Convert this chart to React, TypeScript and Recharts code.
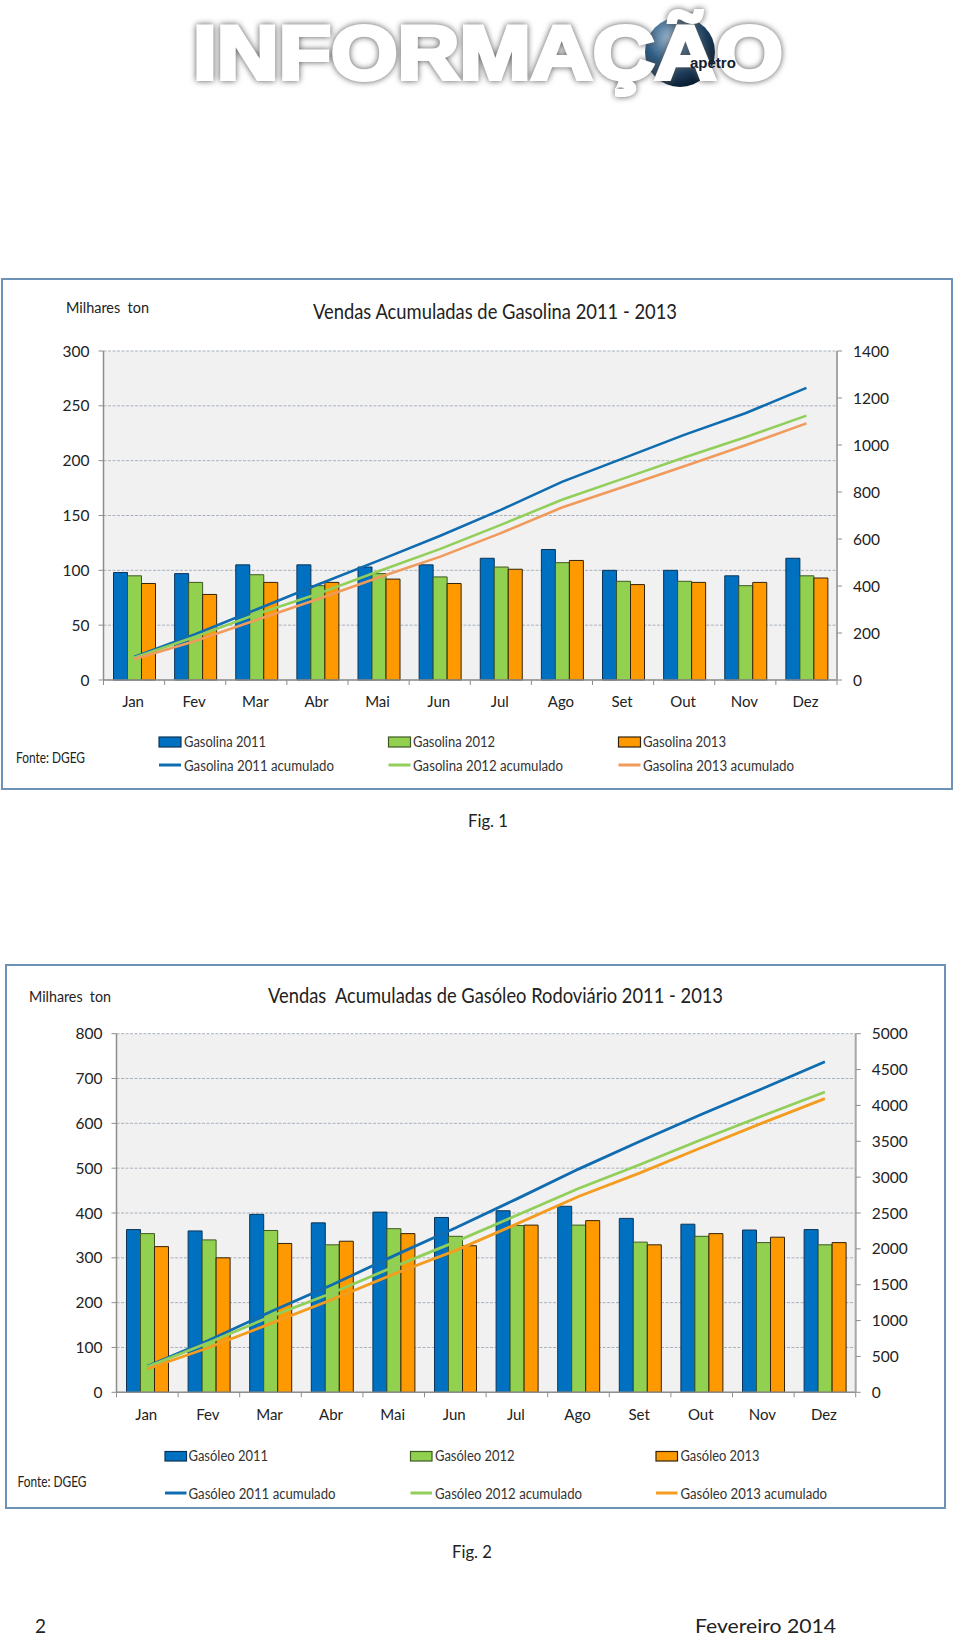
import React from "react";
import { ComposedChart, Bar, Line, XAxis, YAxis, CartesianGrid, Legend } from "recharts";

const months = ["Jan", "Fev", "Mar", "Abr", "Mai", "Jun", "Jul", "Ago", "Set", "Out", "Nov", "Dez"];

const gasolina2011 = [98, 97, 105, 105, 103, 105, 111, 119, 100, 100, 95, 111];
const gasolina2012 = [95, 89, 96, 86, 97, 94, 103, 107, 90, 90, 86, 95];
const gasolina2013 = [88, 78, 89, 89, 92, 88, 101, 109, 87, 89, 89, 93];
const gasolina2011Acum = [98, 195, 300, 405, 508, 613, 724, 843, 943, 1043, 1135, 1243];
const gasolina2012Acum = [95, 184, 280, 366, 463, 557, 660, 767, 857, 947, 1033, 1125];
const gasolina2013Acum = [88, 166, 255, 344, 436, 524, 625, 734, 821, 910, 999, 1092];

const gasoleo2011 = [363, 360, 397, 378, 402, 390, 405, 415, 388, 375, 362, 363];
const gasoleo2012 = [354, 340, 361, 329, 365, 348, 372, 373, 335, 348, 334, 329];
const gasoleo2013 = [325, 300, 332, 337, 354, 327, 373, 383, 329, 354, 346, 334];
const gasoleo2011Acum = [363, 725, 1122, 1500, 1902, 2292, 2697, 3112, 3500, 3877, 4240, 4610];
const gasoleo2012Acum = [354, 694, 1055, 1384, 1749, 2097, 2469, 2842, 3177, 3525, 3859, 4188];
const gasoleo2013Acum = [325, 625, 957, 1294, 1648, 1975, 2348, 2731, 3060, 3414, 3760, 4094];

const gasolinaLeftTicks = [0, 50, 100, 150, 200, 250, 300];
const gasolinaRightTicks = [0, 200, 400, 600, 800, 1000, 1200, 1400];
const gasoleoLeftTicks = [0, 100, 200, 300, 400, 500, 600, 700, 800];
const gasoleoRightTicks = [0, 500, 1000, 1500, 2000, 2500, 3000, 3500, 4000, 4500, 5000];

const FONT = "Lato, Carlito, sans-serif";
const INK = "#222222";
const AXIS = "#8e8e8e";

const barFills = ["#0070C0", "#92D050", "#FF9900"];
const barStrokes = ["#0a3558", "#3e5a22", "#33230c"];

function makeRows(a: number[], b: number[], c: number[], d: number[], e: number[], f: number[]) {
  return months.map((m, i) => ({ m, a: a[i], b: b[i], c: c[i], d: d[i], e: e[i], f: f[i] }));
}
const gasolinaRows = makeRows(gasolina2011, gasolina2012, gasolina2013, gasolina2011Acum, gasolina2012Acum, gasolina2013Acum);
const gasoleoRows = makeRows(gasoleo2011, gasoleo2012, gasoleo2013, gasoleo2011Acum, gasoleo2012Acum, gasoleo2013Acum);

function XTick({ x, y, payload, index, band, labelDy }: any) {
  return (
    <g>
      <line x1={x - band / 2} x2={x - band / 2} y1={y} y2={y + 5} stroke={AXIS} strokeWidth={1} />
      {index === months.length - 1 && (
        <line x1={x + band / 2} x2={x + band / 2} y1={y} y2={y + 5} stroke={AXIS} strokeWidth={1} />
      )}
      <text x={x - 1} y={y + labelDy} textAnchor="middle" fontFamily={FONT} fontSize={15} fill={INK}>
        {payload.value}
      </text>
    </g>
  );
}

function LegendBlock({ layout, names, lineColors }: any) {
  return (
    <svg width={layout.w} height={layout.h} style={{ display: "block", overflow: "visible" }}>
      {names.map((n: string[], i: number) => (
        <g key={i}>
          <rect x={layout.sw[i]} y={layout.r1top} width={layout.swW} height={layout.r1h} fill={barFills[i]} stroke={barStrokes[i]} strokeWidth={1.2} />
          <text x={layout.tx[i]} y={layout.r1base} textLength={layout.w1[i]} lengthAdjust="spacingAndGlyphs" fontFamily={FONT} fontSize={14.5} fill="#333">{n[0]}</text>
          <line x1={layout.sw[i]} x2={layout.sw[i] + layout.swW} y1={layout.r2y} y2={layout.r2y} stroke={lineColors[i]} strokeWidth={3} />
          <text x={layout.tx[i]} y={layout.r2base} textLength={layout.w2[i]} lengthAdjust="spacingAndGlyphs" fontFamily={FONT} fontSize={14.5} fill="#333">{n[1]}</text>
        </g>
      ))}
    </svg>
  );
}

function Fig({ frame, margin, rows, leftTicks, rightTicks, lineColors, lineWidth, names, legend, labelDy }: any) {
  const plotW = frame.w - margin.left - margin.right;
  const band = plotW / months.length;
  const leftMax = leftTicks[leftTicks.length - 1];
  const rightMax = rightTicks[rightTicks.length - 1];
  return (
    <div style={{ position: "absolute", left: frame.x, top: frame.y, width: frame.w, height: frame.h, background: "#fff" }}>
      <div style={{ position: "absolute", inset: 0, boxSizing: "border-box", border: "2px solid #6d92b8" }} />
      <ComposedChart
        width={frame.w}
        height={frame.h}
        data={rows}
        barCategoryGap={10}
        barGap={0}
        margin={{ top: margin.top, right: 0, bottom: margin.bottom - 30, left: 0 }}
        style={{ position: "absolute", left: 0, top: 0 }}
      >
        <CartesianGrid yAxisId="left" vertical={false} horizontal fill="#f1f1f1" stroke="#a8b2be" strokeDasharray="3 1.5" strokeWidth={1} />
        <XAxis
          dataKey="m"
          height={30}
          interval={0}
          tickLine={false}
          tickSize={0}
          tickMargin={0}
          axisLine={{ stroke: AXIS, strokeWidth: 1.5 }}
          tick={(p: any) => <XTick {...p} band={band} labelDy={labelDy} />}
        />
        <YAxis
          yAxisId="left"
          orientation="left"
          width={margin.left}
          domain={[0, leftMax]}
          ticks={leftTicks}
          interval={0}
          axisLine={{ stroke: AXIS, strokeWidth: 1.5 }}
          tickLine={{ stroke: AXIS }}
          tickSize={5}
          tickMargin={9}
          tick={{ fontFamily: FONT, fontSize: 15.5, fill: INK }}
        />
        <YAxis
          yAxisId="right"
          orientation="right"
          width={margin.right}
          domain={[0, rightMax]}
          ticks={rightTicks}
          interval={0}
          axisLine={{ stroke: "#a6a6a6", strokeWidth: 2 }}
          tickLine={{ stroke: AXIS }}
          tickSize={5}
          tickMargin={11}
          tick={{ fontFamily: FONT, fontSize: 15.5, fill: INK }}
        />
        {["a", "b", "c"].map((k, i) => (
          <Bar key={k} yAxisId="left" dataKey={k} name={names[i][0]} fill={barFills[i]} stroke={barStrokes[i]} strokeWidth={1} isAnimationActive={false} />
        ))}
        {["d", "e", "f"].map((k, i) => (
          <Line key={k} yAxisId="right" type="linear" dataKey={k} name={names[i][1]} stroke={lineColors[i]} strokeWidth={lineWidth} dot={false} activeDot={false} isAnimationActive={false} />
        ))}
        <Legend
          wrapperStyle={{ position: "absolute", left: 0, top: 0, width: 0, height: 0, overflow: "visible", pointerEvents: "none" }}
          content={() => <LegendBlock layout={{ ...legend, w: frame.w, h: frame.h }} names={names} lineColors={lineColors} />}
        />
      </ComposedChart>
    </div>
  );
}

function T({ x, y, w, size, children, color = INK }: any) {
  return (
    <text x={x} y={y} textLength={w} lengthAdjust="spacingAndGlyphs" fontFamily={FONT} fontSize={size} fill={color} style={{ whiteSpace: "pre" }}>
      {children}
    </text>
  );
}

const gasolinaNames = [
  ["Gasolina 2011", "Gasolina 2011 acumulado"],
  ["Gasolina 2012", "Gasolina 2012 acumulado"],
  ["Gasolina 2013", "Gasolina 2013 acumulado"],
];
const gasoleoNames = [
  ["Gasóleo 2011", "Gasóleo 2011 acumulado"],
  ["Gasóleo 2012", "Gasóleo 2012 acumulado"],
  ["Gasóleo 2013", "Gasóleo 2013 acumulado"],
];

export default function App() {
  return (
    <div style={{ position: "absolute", left: 0, top: 0, width: 960, height: 1638, background: "#fff", overflow: "hidden" }}>
      <Fig
        frame={{ x: 1, y: 278, w: 952, h: 512 }}
        margin={{ top: 73, bottom: 110, left: 102.5, right: 116 }}
        rows={gasolinaRows}
        leftTicks={gasolinaLeftTicks}
        rightTicks={gasolinaRightTicks}
        lineColors={["#0f6cb0", "#92cf5a", "#f09a5c"]}
        lineWidth={2.6}
        names={gasolinaNames}
        labelDy={27}
        legend={{
          sw: [158, 387.5, 617.5], swW: 22, tx: [183, 412, 642],
          w1: [82, 82, 83], w2: [150, 150, 151],
          r1top: 459, r1h: 10, r1base: 468.5, r2y: 487, r2base: 492.5,
        }}
      />
      <Fig
        frame={{ x: 5, y: 964, w: 941, h: 545 }}
        margin={{ top: 69.7, bottom: 116.7, left: 111.5, right: 90.3 }}
        rows={gasoleoRows}
        leftTicks={gasoleoLeftTicks}
        rightTicks={gasoleoRightTicks}
        lineColors={["#0f6cb0", "#92cf5a", "#f39c1f"]}
        lineWidth={2.8}
        names={gasoleoNames}
        labelDy={28}
        legend={{
          sw: [160, 405.5, 651], swW: 21.5, tx: [183.5, 430, 675.5],
          w1: [79.5, 79.5, 79], w2: [147, 147, 146.5],
          r1top: 487.5, r1h: 9.5, r1base: 497, r2y: 529, r2base: 535,
        }}
      />
      <svg width={960} height={1638} style={{ position: "absolute", left: 0, top: 0, pointerEvents: "none" }}>
        <defs>
          <radialGradient id="globe" cx="35%" cy="30%" r="75%">
            <stop offset="0%" stopColor="#9db8cf" />
            <stop offset="45%" stopColor="#2f5d85" />
            <stop offset="100%" stopColor="#07182a" />
          </radialGradient>
        </defs>
        <circle cx={680} cy={52} r={35} fill="url(#globe)" />
        <text
          x={193}
          y={79}
          textLength={590}
          lengthAdjust="spacingAndGlyphs"
          fontFamily="'Liberation Sans', sans-serif"
          fontWeight={700}
          fontSize={76}
          fill="#ffffff"
          stroke="#ffffff"
          strokeWidth={4}
          style={{ filter: "drop-shadow(0 0 3px #555)" }}
        >
          INFORMAÇÃO
        </text>
        <text x={690} y={68} fontFamily="'Liberation Sans', sans-serif" fontWeight={700} fontSize={15} fill="#10202f">apetro</text>

        <T x={66} y={313} w={83} size={15.5}>Milhares  ton</T>
        <T x={313} y={319} w={364} size={20.5}>Vendas Acumuladas de Gasolina 2011 - 2013</T>
        <T x={16} y={763} w={69} size={14.5}>Fonte: DGEG</T>
        <T x={468} y={827} w={40} size={17.5}>Fig. 1</T>

        <T x={29} y={1002} w={82} size={15.5}>Milhares  ton</T>
        <T x={268} y={1002.5} w={455} size={20.5}>Vendas  Acumuladas de Gasóleo Rodoviário 2011 - 2013</T>
        <T x={17.5} y={1487} w={69} size={14.5}>Fonte: DGEG</T>
        <T x={452} y={1558} w={40} size={17.5}>Fig. 2</T>

        <T x={35} y={1633} w={11} size={20}>2</T>
        <T x={695} y={1633} w={141} size={20}>Fevereiro 2014</T>
      </svg>
    </div>
  );
}
